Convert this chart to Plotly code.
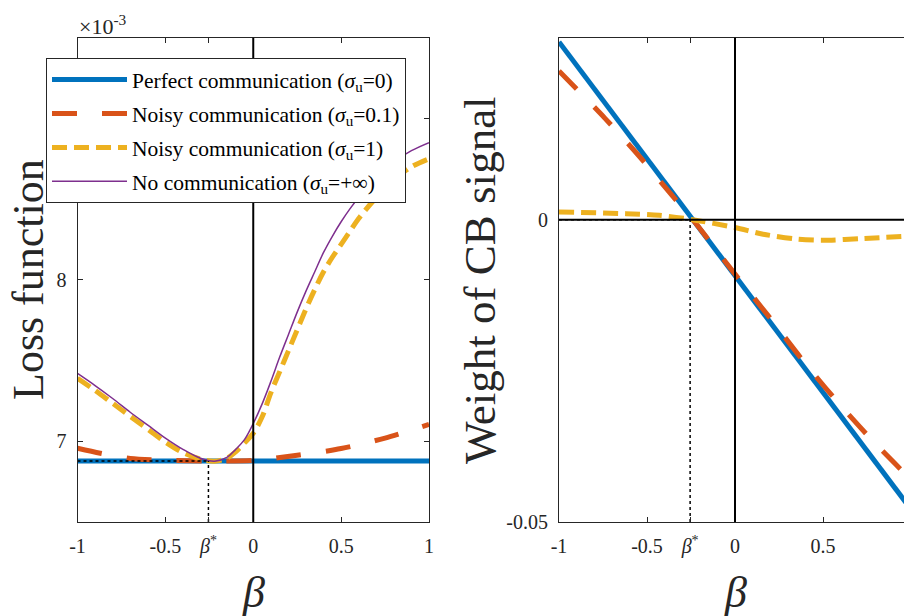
import plotly.graph_objects as go

# ---------------- data ----------------
beta_star = -0.255
tick_vals_x = [-1, -0.5, beta_star, 0, 0.5, 1]
tick_text_x = ["-1", "-0.5", "<i>β</i><sup>*</sup>", "0", "0.5", "1"]

# Left panel: loss function (x 1e-3)
beta_perfect = [-1.0, 1.0]
loss_perfect = [6.878, 6.878]

beta_noisy01 = [-1.0, -0.87, -0.7, -0.5, -0.25, 0.0, 0.25, 0.5, 0.75, 1.0]
loss_noisy01 = [6.957, 6.926, 6.893, 6.882, 6.878, 6.881, 6.913, 6.955, 7.02, 7.105]

beta_noisy1 = [-1.0, -0.9, -0.8, -0.7, -0.6, -0.5, -0.4, -0.3, -0.22, -0.15, -0.1, -0.05,
               0.0, 0.05, 0.1, 0.15, 0.2, 0.25, 0.3, 0.35, 0.4, 0.45, 0.5, 0.55, 0.6,
               0.7, 0.8, 0.9, 1.0]
loss_noisy1 = [7.39, 7.315, 7.235, 7.155, 7.075, 6.995, 6.93, 6.89, 6.877, 6.895, 6.935, 6.99,
               7.05, 7.15, 7.30, 7.43, 7.56, 7.69, 7.82, 7.94, 8.05, 8.14, 8.22, 8.30, 8.38,
               8.51, 8.62, 8.70, 8.75]

beta_nocomm = [-1.0, -0.9, -0.8, -0.7, -0.6, -0.5, -0.4, -0.3, -0.22, -0.15, -0.1, -0.05,
               0.0, 0.05, 0.1, 0.15, 0.2, 0.25, 0.3, 0.35, 0.4, 0.45, 0.5, 0.55, 0.6,
               0.7, 0.8, 0.9, 1.0]
loss_nocomm = [7.42, 7.345, 7.265, 7.18, 7.10, 7.02, 6.95, 6.895, 6.877, 6.90, 6.95, 7.01,
               7.11, 7.23, 7.37, 7.52, 7.66, 7.80, 7.93, 8.05, 8.17, 8.27, 8.36, 8.44, 8.51,
               8.63, 8.73, 8.80, 8.85]

loss_min = 6.878
loss_range = [6.5, 9.5]
loss_ticks = [7, 8, 9]

# Right panel: weight of CB signal
beta_w_perfect = [-1.0, 1.0]
w_perfect = [0.0294, -0.0479]

beta_w_noisy01 = [-1.0, -0.74, -0.55, -0.36, -0.24, 0.0, 0.2, 0.386, 0.575, 0.774, 1.0]
w_noisy01 = [0.0246, 0.0168, 0.0107, 0.0041, 0.0, -0.0090, -0.0163, -0.0233, -0.0299, -0.0363, -0.0430]

beta_w_noisy1 = [-1.0, -0.62, -0.43, -0.24, 0.0, 0.16, 0.35, 0.5, 0.73, 1.0]
w_noisy1 = [0.00127, 0.0010, 0.00072, 0.0, -0.0013, -0.0024, -0.0032, -0.0034, -0.0031, -0.0027]

w_zero = 0.0
w_range = [-0.05, 0.0301]
w_ticks = [-0.05, 0]
w_tick_text = ["-0.05", "0"]

names = ["Perfect communication (<i>σ</i><sub>u</sub>=0)",
         "Noisy communication (<i>σ</i><sub>u</sub>=0.1)",
         "Noisy communication (<i>σ</i><sub>u</sub>=1)",
         "No communication (<i>σ</i><sub>u</sub>=+∞)"]

BLUE = "#0072BD"
RED = "#D95319"
YEL = "#EDB120"
PUR = "#7E2F8E"
AX = "#262626"
FONT = "Liberation Serif"
RED_DASH = "25px,25px"
YEL_DASH = "15px,7px"

W, H = 912, 616
OFF = 8  # page offset of the figure inside the browser window


def px(v):
    return (v - OFF) / W


def py(v):
    return 1 - (v - OFF) / H


fig = go.Figure()

# ---------- left panel ----------
fig.add_trace(go.Scatter(x=beta_perfect, y=loss_perfect, mode="lines", name=names[0], legendgroup="a",
                         line=dict(color=BLUE, width=5), xaxis="x", yaxis="y"))
fig.add_trace(go.Scatter(x=beta_noisy01, y=loss_noisy01, mode="lines", name=names[1], legendgroup="b",
                         line=dict(color=RED, width=5, dash=RED_DASH, shape="spline", smoothing=0.8),
                         xaxis="x", yaxis="y"))
fig.add_trace(go.Scatter(x=beta_noisy1, y=loss_noisy1, mode="lines", name=names[2], legendgroup="c",
                         line=dict(color=YEL, width=5, dash=YEL_DASH, shape="spline", smoothing=1.0),
                         xaxis="x", yaxis="y"))
fig.add_trace(go.Scatter(x=beta_nocomm, y=loss_nocomm, mode="lines", name=names[3], legendgroup="d",
                         line=dict(color=PUR, width=1.5, shape="spline", smoothing=1.0),
                         xaxis="x", yaxis="y"))
# dotted guide lines
fig.add_trace(go.Scatter(x=[-1, beta_star], y=[loss_min, loss_min], mode="lines", showlegend=False,
                         line=dict(color="black", width=1.5, dash="dot"), xaxis="x", yaxis="y"))
fig.add_trace(go.Scatter(x=[beta_star, beta_star], y=[loss_range[0], loss_min], mode="lines", showlegend=False,
                         line=dict(color="black", width=1.5, dash="dot"), xaxis="x", yaxis="y"))

# ---------- right panel ----------
fig.add_trace(go.Scatter(x=beta_w_perfect, y=w_perfect, mode="lines", showlegend=False,
                         line=dict(color=BLUE, width=5), xaxis="x2", yaxis="y2"))
fig.add_trace(go.Scatter(x=beta_w_noisy01, y=w_noisy01, mode="lines", showlegend=False,
                         line=dict(color=RED, width=5, dash=RED_DASH, shape="spline", smoothing=0.8),
                         xaxis="x2", yaxis="y2"))
fig.add_trace(go.Scatter(x=beta_w_noisy1, y=w_noisy1, mode="lines", showlegend=False,
                         line=dict(color=YEL, width=5, dash=YEL_DASH, shape="spline", smoothing=0.8),
                         xaxis="x2", yaxis="y2"))
fig.add_trace(go.Scatter(x=[-1, beta_star], y=[w_zero, w_zero], mode="lines", showlegend=False,
                         line=dict(color="black", width=1.5, dash="dot"), xaxis="x2", yaxis="y2"))
fig.add_trace(go.Scatter(x=[beta_star, beta_star], y=[w_range[0], w_zero], mode="lines", showlegend=False,
                         line=dict(color="black", width=1.5, dash="dot"), xaxis="x2", yaxis="y2"))

axis_common = dict(showline=True, linecolor=AX, linewidth=1, mirror="ticks", ticks="inside",
                   ticklen=5, tickcolor=AX, tickwidth=1, showgrid=False, zeroline=False,
                   tickfont=dict(family=FONT, size=20, color=AX))

ydom = [py(522), py(37.7)]

fig.update_layout(
    width=W, height=H,
    margin=dict(l=0, r=0, t=0, b=0, autoexpand=False),
    paper_bgcolor="white", plot_bgcolor="white",
    showlegend=True,
    xaxis=dict(domain=[px(77.5), px(429)], range=[-1, 1], tickvals=tick_vals_x,
               ticktext=tick_text_x, anchor="y", ticklabelstandoff=6, **axis_common),
    yaxis=dict(domain=ydom, range=loss_range, tickvals=loss_ticks,
               anchor="x", ticklabelstandoff=6, **axis_common),
    xaxis2=dict(domain=[px(559), px(911)], range=[-1, 1], tickvals=tick_vals_x,
                ticktext=tick_text_x, anchor="y2", ticklabelstandoff=6, **axis_common),
    yaxis2=dict(domain=ydom, range=w_range, tickvals=w_ticks,
                ticktext=w_tick_text, anchor="x2", ticklabelstandoff=6, **axis_common),
    legend=dict(x=px(46), y=py(58), xanchor="left", yanchor="top",
                bgcolor="white", bordercolor=AX, borderwidth=1,
                font=dict(family=FONT, size=21.5, color="black"), itemwidth=75,
                tracegroupgap=3),
    shapes=[
        dict(type="line", xref="x", yref="y domain", x0=0, x1=0, y0=0, y1=1,
             line=dict(color="black", width=2), layer="above"),
        dict(type="line", xref="x2", yref="y2 domain", x0=0, x1=0, y0=0, y1=1,
             line=dict(color="black", width=2), layer="above"),
        dict(type="line", xref="x2 domain", yref="y2", x0=0, x1=1, y0=w_zero, y1=w_zero,
             line=dict(color="black", width=2), layer="above"),
    ],
    annotations=[
        dict(text="Loss function", xref="paper", yref="paper", x=px(29), y=py(280),
             textangle=-90, showarrow=False, xanchor="center", yanchor="middle",
             font=dict(family=FONT, size=44, color=AX)),
        dict(text="Weight of CB signal", xref="paper", yref="paper", x=px(480), y=py(280),
             textangle=-90, showarrow=False, xanchor="center", yanchor="middle",
             font=dict(family=FONT, size=45, color=AX)),
        dict(text="<i>β</i>", xref="x domain", yref="paper", x=0.5, y=py(592),
             showarrow=False, xanchor="center", yanchor="middle",
             font=dict(family=FONT, size=44, color=AX)),
        dict(text="<i>β</i>", xref="x2 domain", yref="paper", x=0.5, y=py(592),
             showarrow=False, xanchor="center", yanchor="middle",
             font=dict(family=FONT, size=44, color=AX)),
        dict(text="×10<sup>-3</sup>", xref="paper", yref="paper", x=px(77), y=py(25),
             showarrow=False, xanchor="left", yanchor="middle",
             font=dict(family=FONT, size=22, color=AX)),
    ],
)

fig.write_html("out.html")
